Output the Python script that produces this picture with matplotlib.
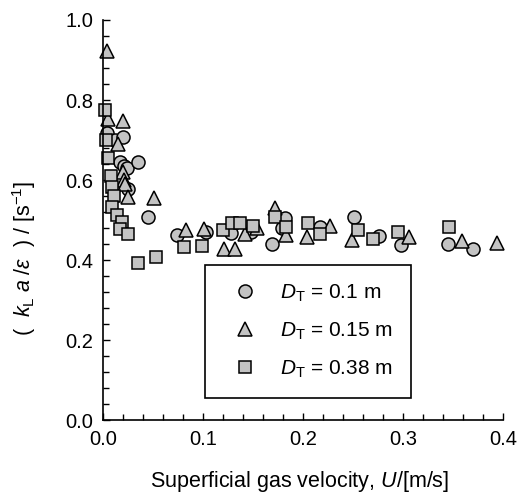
import matplotlib
matplotlib.use("Agg")
import matplotlib.pyplot as plt
from matplotlib.ticker import MultipleLocator

plt.rcParams['font.family'] = ['Liberation Sans', 'DejaVu Sans']
plt.rcParams['mathtext.fontset'] = 'custom'
plt.rcParams['mathtext.rm'] = 'Liberation Sans'
plt.rcParams['mathtext.it'] = 'Liberation Sans:italic'
plt.rcParams['mathtext.bf'] = 'Liberation Sans:bold'

# D_T = 0.1 m (circles)
u_01 = [0.004, 0.012, 0.020, 0.017, 0.021, 0.024, 0.035, 0.025, 0.045, 0.074,
        0.103, 0.128, 0.148, 0.169, 0.179, 0.182, 0.217, 0.251, 0.276, 0.298,
        0.345, 0.370]
k_01 = [0.718, 0.700, 0.707, 0.646, 0.636, 0.629, 0.646, 0.578, 0.507, 0.463,
        0.470, 0.467, 0.470, 0.440, 0.479, 0.506, 0.483, 0.507, 0.460, 0.438,
        0.441, 0.428]

# D_T = 0.15 m (triangles)
u_015 = [0.004, 0.005, 0.020, 0.015, 0.020, 0.021, 0.022, 0.025, 0.051, 0.083,
         0.101, 0.121, 0.132, 0.142, 0.154, 0.172, 0.183, 0.204, 0.227, 0.249,
         0.306, 0.359, 0.394]
k_015 = [0.923, 0.752, 0.747, 0.691, 0.621, 0.600, 0.590, 0.558, 0.555, 0.476,
         0.478, 0.427, 0.427, 0.464, 0.480, 0.530, 0.462, 0.458, 0.485, 0.450,
         0.458, 0.447, 0.442]

# D_T = 0.38 m (squares)
u_038 = [0.002, 0.003, 0.005, 0.008, 0.009, 0.011, 0.009, 0.014, 0.019, 0.017,
         0.025, 0.035, 0.053, 0.081, 0.099, 0.120, 0.129, 0.137, 0.150, 0.172,
         0.183, 0.205, 0.217, 0.255, 0.270, 0.295, 0.346]
k_038 = [0.774, 0.699, 0.655, 0.609, 0.582, 0.560, 0.532, 0.512, 0.495, 0.477,
         0.466, 0.393, 0.408, 0.433, 0.435, 0.475, 0.493, 0.493, 0.486, 0.507,
         0.483, 0.492, 0.466, 0.475, 0.453, 0.471, 0.482]

labels = [r'$D_\mathrm{T}$ = 0.1 m', r'$D_\mathrm{T}$ = 0.15 m', r'$D_\mathrm{T}$ = 0.38 m']

W, H = 518, 496
fig = plt.figure(figsize=(W / 100, H / 100), dpi=100)
ax = fig.add_axes([103 / W, 1 - 420 / H, 400 / W, 400 / H])

fill = '#c3c3c3'
ms = 9.4
common = dict(linestyle='none', markerfacecolor=fill, markeredgecolor='black',
              markeredgewidth=1.1, clip_on=False)
ax.plot(u_01, k_01, marker='o', markersize=ms, label=labels[0], **common)
ax.plot(u_015, k_015, marker='^', markersize=ms, label=labels[1], **common)
ax.plot(u_038, k_038, marker='s', markersize=ms - 0.2, label=labels[2], **common)

ax.set_xlim(0, 0.4)
ax.set_ylim(0, 1.0)
ax.xaxis.set_major_locator(MultipleLocator(0.1))
ax.xaxis.set_minor_locator(MultipleLocator(0.02))
ax.yaxis.set_major_locator(MultipleLocator(0.2))
ax.yaxis.set_minor_locator(MultipleLocator(0.04))
ax.xaxis.set_major_formatter(matplotlib.ticker.FormatStrFormatter('%.1f'))
ax.yaxis.set_major_formatter(matplotlib.ticker.FormatStrFormatter('%.1f'))

for s in ['top', 'right']:
    ax.spines[s].set_visible(False)
for s in ['left', 'bottom']:
    ax.spines[s].set_linewidth(1.2)

ax.tick_params(which='both', direction='in', width=1.0, labelsize=14.5, pad=7)
ax.tick_params(which='major', length=5)
ax.tick_params(which='minor', length=4)

fig.text(300 / W, 1 - 482 / H, r'Superficial gas velocity, $U$/[m/s]',
         ha='center', va='center', fontsize=15.5)
fig.text(24 / W, 1 - 258 / H,
         r'(  $k_\mathrm{L}\,\,a\;/\varepsilon$  ) / [s$^{-1}$]',
         ha='center', va='center', rotation=90, fontsize=15.5)

leg = ax.legend(loc='upper left', bbox_to_anchor=(0.255, 0.3875), borderaxespad=0,
                fontsize=15, frameon=True, fancybox=False, edgecolor='black',
                handlelength=2.1, handletextpad=0.65, borderpad=0.85,
                labelspacing=0.8, framealpha=1)
leg.get_frame().set_linewidth(1.2)

fig.savefig('out.png', dpi=100)
